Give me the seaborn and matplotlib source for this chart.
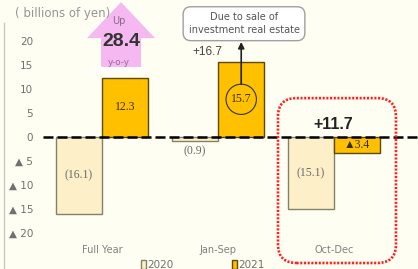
import matplotlib
matplotlib.use("Agg")
import matplotlib.pyplot as plt
import seaborn as sns
import pandas as pd
from matplotlib.patches import FancyArrow, FancyBboxPatch, Ellipse, Patch

# --------------------------------------------------
# DATA
# --------------------------------------------------

periods = ["Full Year", "Jan-Sep", "Oct-Dec"]
years = ["2020", "2021"]
values_2020 = [-16.1, -0.9, -15.1]
values_2021 = [12.3, 15.7, -3.4]
change_labels = ["28.4", "+16.7", "+11.7"]

ytick_values = [20, 15, 10, 5, 0, -5, -10, -15, -20]
ytick_labels = ["20", "15", "10", "5", "0", "▲ 5", "▲ 10", "▲ 15", "▲ 20"]

colors = {"2020": "#FDF0C8", "2021": "#FFC000"}
edges = {"2020": "#85806c", "2021": "#5c4a00"}

df = pd.DataFrame({
    "period": periods * 2,
    "year": ["2020"] * 3 + ["2021"] * 3,
    "value": values_2020 + values_2021,
})

# --------------------------------------------------
# FIGURE
# --------------------------------------------------

bg = "#FEFEF3"
sns.set_theme(style="white")
plt.rcParams["font.family"] = ["DejaVu Sans"]

fig = plt.figure(figsize=(4.18, 2.69), dpi=100, facecolor=bg)
ax = fig.add_axes([4 / 418, 0, 1 - 4 / 418, 1])
ax.set_facecolor(bg)

sns.barplot(
    data=df,
    x="period",
    y="value",
    hue="year",
    order=periods,
    hue_order=years,
    palette=colors,
    saturation=1,
    width=0.8,
    legend=False,
    ax=ax
)

for container, yr in zip(ax.containers, years):
    for bar in container:
        bar.set_edgecolor(edges[yr])
        bar.set_linewidth(1.0)

ax.set_xlim(-0.845, 2.724)
ax.set_ylim(-27.5, 28.54)

# zero line
ax.axhline(0, xmin=0.094, xmax=1, color="black", lw=1.8,
           linestyle=(0, (4, 1.6)), zorder=5)

# axes / ticks
for s in ["top", "right", "bottom"]:
    ax.spines[s].set_visible(False)
ax.spines["left"].set_color("#c8c8bc")
ax.spines["left"].set_linewidth(1.0)
ax.spines["left"].set_bounds(-27.5, 23.75)

ax.set_yticks(ytick_values)
ax.set_yticklabels(ytick_labels)
ax.tick_params(axis="y", length=0, pad=-21, labelsize=7.5, labelcolor="#707070")
ax.tick_params(axis="x", length=0, pad=-17, labelsize=7, labelcolor="#808080")
ax.set_xlabel("")
ax.set_ylabel("")
ax.grid(False)

# --------------------------------------------------
# BAR LABELS
# --------------------------------------------------

serif = ["Liberation Serif", "DejaVu Sans"]
for container, yr in zip(ax.containers, years):
    for bar in container:
        v = bar.get_height()
        xc = bar.get_x() + bar.get_width() / 2
        if yr == "2020":
            txt = f"({abs(v):.1f})"
            col = "#6a6a6a"
        else:
            txt = f"{v:.1f}" if v >= 0 else f"▲{abs(v):.1f}"
            col = "#3a3000"
        yc = v / 2 if abs(v) >= 2 else v - 2.0
        ax.text(xc, yc, txt, ha="center", va="center", fontsize=8.5,
                color=col, family=serif, zorder=6)

# circle around Jan-Sep 2021 label and callout
js_bar = ax.containers[1][1]
js_x = js_bar.get_x() + js_bar.get_width() / 2
js_y = js_bar.get_height() / 2
ax.add_patch(Ellipse((js_x, js_y), width=0.262, height=6.3, fill=False,
                     edgecolor="#333333", lw=0.8, zorder=6))
ax.annotate("", xy=(js_x, 19.8), xytext=(js_x, js_y + 3.15),
            arrowprops=dict(arrowstyle="-|>", color="#222222", lw=1.2,
                            mutation_scale=9, shrinkA=0, shrinkB=0),
            zorder=6)
ax.text(1.224, 23.6, "Due to sale of\ninvestment real estate", ha="center",
        va="center", fontsize=7, color="#555555", linespacing=1.4,
        bbox=dict(boxstyle="round,pad=0.55,rounding_size=0.8",
                  fc="white", ec="#a0a0a0", lw=1.0), zorder=7)

# --------------------------------------------------
# CHANGE ANNOTATIONS
# --------------------------------------------------

ax.add_patch(FancyArrow(0.164, 14.6, 0, 13.5, width=0.345, head_width=0.586,
                        head_length=7.5, length_includes_head=True,
                        color="#F5B8F0", lw=0, zorder=1))
ax.plot([-0.10, 0.40], [13.96, 13.96], color="white", lw=2.2, zorder=2)
ax.text(0.147, 24.2, "Up", ha="center", va="center", fontsize=7,
        color="#8a6a8a", zorder=3)
ax.text(0.164, 19.8, change_labels[0], ha="center", va="center", fontsize=14,
        fontweight="bold", family=["Liberation Sans"], color="#333333", zorder=3)
ax.text(0.147, 15.6, "y-o-y", ha="center", va="center", fontsize=6.3,
        color="#9a6a9a", zorder=3)

ax.text(0.905, 17.7, change_labels[1], ha="center", va="center", fontsize=8.5,
        family=["Liberation Sans"], color="#444444", zorder=3)
ax.text(1.99, 2.5, change_labels[2], ha="center", va="center", fontsize=11.5,
        fontweight="bold", family=["Liberation Sans"], color="#222222", zorder=6)

# red dotted highlight around Oct-Dec
ax.add_patch(FancyBboxPatch((1.517, -26.25), 1.017, 34.35,
                            boxstyle="round,pad=0,rounding_size=0.16",
                            mutation_aspect=24.2, fill=False,
                            edgecolor="#FF2020", lw=1.9,
                            linestyle=(0, (0.8, 0.6)), zorder=6))

# --------------------------------------------------
# TITLE + LEGEND
# --------------------------------------------------

fig.text(15 / 418, 1 - 13 / 269, "( billions of yen)", ha="left", va="center",
         fontsize=8.5, color="#959595")

handles = [Patch(facecolor=colors[y], edgecolor=edges[y], lw=1.0, label=y)
           for y in years]
fig.legend(handles=handles, loc="center left",
           bbox_to_anchor=(141 / 418, 4 / 269), ncol=2, frameon=False,
           fontsize=7.5, labelcolor="#707070", handlelength=0.45,
           handleheight=0.9, handletextpad=0.15, columnspacing=5.6,
           borderpad=0, borderaxespad=0)

fig.savefig("out.png", dpi=100, facecolor=bg)
